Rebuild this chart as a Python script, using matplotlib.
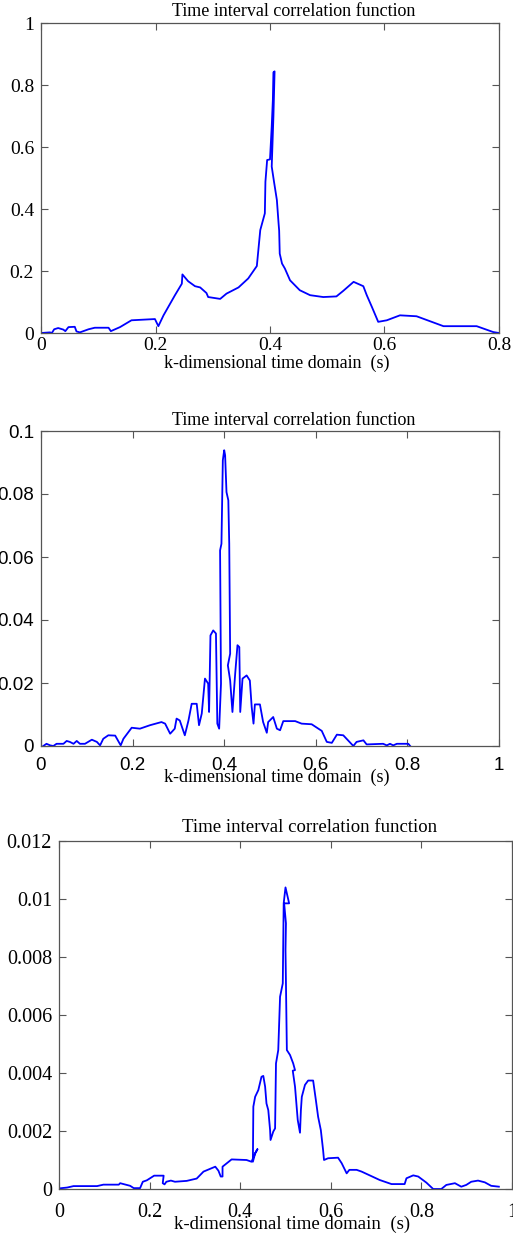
import matplotlib
matplotlib.use("Agg")
import matplotlib.pyplot as plt

# --- data ---
# panel 1
x1 = [0, 0.0157, 0.019, 0.023, 0.030, 0.039, 0.0425, 0.048, 0.059, 0.062, 0.068, 0.083, 0.094,
      0.118, 0.122, 0.138, 0.158, 0.199, 0.205, 0.214, 0.234, 0.246, 0.247, 0.257, 0.269, 0.278,
      0.289, 0.292, 0.313, 0.324, 0.345, 0.362, 0.377, 0.383, 0.391, 0.392, 0.395, 0.400, 0.403,
      0.405, 0.406, 0.408, 0.406, 0.403, 0.407, 0.412, 0.415, 0.416, 0.417, 0.421, 0.426, 0.435,
      0.452, 0.470, 0.493, 0.516, 0.528, 0.546, 0.563, 0.569, 0.578, 0.589, 0.604, 0.627, 0.656,
      0.703, 0.761, 0.790, 0.8]
y1 = [0, 0.002, 0, 0.012, 0.016, 0.011, 0.006, 0.019, 0.020, 0.005, 0.002, 0.012, 0.017,
      0.017, 0.006, 0.019, 0.041, 0.045, 0.022, 0.057, 0.122, 0.159, 0.189, 0.167, 0.151, 0.147,
      0.129, 0.116, 0.110, 0.127, 0.147, 0.176, 0.216, 0.332, 0.386, 0.488, 0.558, 0.560, 0.666,
      0.752, 0.841, 0.844, 0.700, 0.537, 0.488, 0.429, 0.353, 0.330, 0.256, 0.224, 0.208, 0.170,
      0.138, 0.122, 0.116, 0.118, 0.136, 0.165, 0.151, 0.122, 0.084, 0.036, 0.041, 0.057, 0.054,
      0.022, 0.022, 0.003, 0]

# panel 2
x2 = [0.005, 0.012, 0.020, 0.027, 0.034, 0.049, 0.056, 0.063, 0.071, 0.078, 0.085, 0.096, 0.111,
      0.122, 0.129, 0.136, 0.147, 0.162, 0.174, 0.180, 0.198, 0.216, 0.238, 0.263, 0.271, 0.282,
      0.292, 0.296, 0.303, 0.314, 0.322, 0.329, 0.340, 0.345, 0.351, 0.358, 0.365, 0.367, 0.370,
      0.376, 0.382, 0.385, 0.389, 0.393, 0.391, 0.394, 0.397, 0.400, 0.402, 0.405, 0.409, 0.411,
      0.413, 0.408, 0.413, 0.418, 0.424, 0.429, 0.433, 0.435, 0.440, 0.449, 0.456, 0.460, 0.464,
      0.467, 0.478, 0.485, 0.493, 0.496, 0.507, 0.515, 0.522, 0.529, 0.555, 0.569, 0.591, 0.613,
      0.624, 0.635, 0.646, 0.660, 0.682, 0.689, 0.704, 0.711, 0.747, 0.755, 0.762, 0.769, 0.777,
      0.802, 0.806]
y2 = [0, 0.0007, 0.0002, 0, 0.0007, 0.0007, 0.0016, 0.0013, 0.0007, 0.0016, 0.0007, 0.0007, 0.0020,
      0.0013, 0.0002, 0.0023, 0.0034, 0.0033, 0.0002, 0.0023, 0.0058, 0.0055, 0.0066, 0.0076, 0.0071,
      0.0039, 0.0055, 0.0087, 0.0081, 0.0034, 0.0081, 0.0134, 0.0134, 0.0066, 0.0103, 0.0214, 0.0198,
      0.0108, 0.0351, 0.0367, 0.0357, 0.0071, 0.0055, 0.0198, 0.0621, 0.0642, 0.0907, 0.0939, 0.0923,
      0.0806, 0.0780, 0.0642, 0.0293, 0.0256, 0.0208, 0.0108, 0.0230, 0.0320, 0.0314, 0.0108, 0.0214,
      0.0224, 0.0208, 0.0124, 0.0071, 0.0132, 0.0132, 0.0076, 0.0042, 0.0076, 0.0092, 0.0055, 0.0050,
      0.0079, 0.0079, 0.0071, 0.0069, 0.0048, 0.0013, 0.0010, 0.0036, 0.0034, 0, 0.0013, 0.0018,
      0.0005, 0.0007, 0.0002, 0.0007, 0.0002, 0.0007, 0.0007, 0]

# panel 3
x3 = [0, 0.018, 0.032, 0.084, 0.098, 0.132, 0.135, 0.157, 0.165, 0.179, 0.185, 0.194, 0.210, 0.231,
      0.229, 0.233, 0.237, 0.247, 0.256, 0.282, 0.304, 0.319, 0.345, 0.352, 0.357, 0.361, 0.361,
      0.381, 0.414, 0.425, 0.433, 0.438, 0.433, 0.428, 0.429, 0.433, 0.440, 0.447, 0.451, 0.455,
      0.458, 0.462, 0.466, 0.467, 0.473, 0.477, 0.479, 0.484, 0.488, 0.494, 0.495, 0.496, 0.500,
      0.508, 0.497, 0.501, 0.500, 0.503, 0.510, 0.517, 0.521, 0.516, 0.521, 0.527, 0.532, 0.534,
      0.536, 0.543, 0.550, 0.561, 0.567, 0.572, 0.578, 0.583, 0.585, 0.594, 0.616, 0.624, 0.635,
      0.641, 0.657, 0.668, 0.708, 0.734, 0.763, 0.767, 0.782, 0.793, 0.811, 0.826, 0.844, 0.855,
      0.874, 0.888, 0.899, 0.910, 0.925, 0.940, 0.954, 0.971]
y3 = [0.00002, 0.00005, 0.0001, 0.0001, 0.00015, 0.00015, 0.0002, 0.00011, 0.00003, 0.00003,
      0.00025, 0.0003, 0.00046, 0.00046, 0.0002, 0.00016, 0.00025, 0.00029, 0.00025, 0.00028,
      0.00036, 0.0006, 0.00077, 0.00063, 0.00043, 0.00043, 0.00077, 0.00102, 0.0010, 0.00094,
      0.00123, 0.00137, 0.00123, 0.00094, 0.00284, 0.00318, 0.00341, 0.00387, 0.0039, 0.00353,
      0.00295, 0.00272, 0.00203, 0.00169, 0.00198, 0.00209, 0.00433, 0.00479, 0.00663, 0.00709,
      0.00847, 0.00985, 0.0104, 0.00985, 0.00985, 0.00916, 0.00824, 0.00479, 0.00462, 0.00433,
      0.0041, 0.00408, 0.00353, 0.00238, 0.00194, 0.00272, 0.00318, 0.00359, 0.00374, 0.00374,
      0.00307, 0.00249, 0.00203, 0.00134, 0.0010, 0.00106, 0.00108, 0.00089, 0.00054, 0.00066,
      0.00066, 0.0006, 0.00031, 0.00017, 0.00017, 0.00037, 0.00047, 0.00043, 0.00022, 0, 0,
      0.00014, 0.0002, 0.00008, 0.00014, 0.00025, 0.00029, 0.00023, 0.00011, 0.00008]

W, H = 513, 1236
SERIF = "Liberation Serif"
SANS = "Liberation Sans"
TITLE = "Time interval correlation function"
XLABEL = "k-dimensional time domain  (s)"

fig = plt.figure(figsize=(W / 100, H / 100), dpi=100)


def make_axes(left, top, right, bottom):
    return fig.add_axes([left / W, 1 - bottom / H, (right - left) / W, (bottom - top) / H])


def style(ax, font, size, xpad):
    ax.tick_params(direction="in", length=5, width=0.8, color="#555555",
                   top=True, right=True, labelsize=size, pad=5)
    ax.tick_params(axis="x", pad=xpad)
    for lab in ax.get_xticklabels() + ax.get_yticklabels():
        lab.set_family(font)
    for sp in ax.spines.values():
        sp.set_color("#555555")
        sp.set_linewidth(0.9)


def fig_text(x, y, s, size):
    fig.text(x / W, 1 - y / H, s, ha="center", va="center", family=SERIF, fontsize=size)


# --- panel 1 ---
ax1 = make_axes(41, 23, 499, 333)
ax1.plot(x1, y1, color="#0000ff", lw=1.3)
ax1.set_xlim(0, 0.8)
ax1.set_ylim(0, 1)
ax1.set_xticks([0, 0.2, 0.4, 0.6, 0.8])
ax1.set_xticklabels(["0", "0.2", "0.4", "0.6", "0.8"])
ax1.set_yticks([0, 0.2, 0.4, 0.6, 0.8, 1])
ax1.set_yticklabels(["0", "0.2", "0.4", "0.6", "0.8", "1"])
style(ax1, SERIF, 14, 3)
fig_text(294, 12, TITLE, 13)
fig_text(277, 363, XLABEL, 13)

# --- panel 2 ---
ax2 = make_axes(41, 431, 499, 746)
ax2.plot(x2, y2, color="#0000ff", lw=1.3)
ax2.set_xlim(0, 1)
ax2.set_ylim(0, 0.1)
ax2.set_xticks([0, 0.2, 0.4, 0.6, 0.8, 1])
ax2.set_xticklabels(["0", "0.2", "0.4", "0.6", "0.8", "1"])
ax2.set_yticks([0, 0.02, 0.04, 0.06, 0.08, 0.1])
ax2.set_yticklabels(["0", "0.02", "0.04", "0.06", "0.08", "0.1"])
style(ax2, SANS, 13.5, 8)
fig_text(294, 420, TITLE, 13)
fig_text(277, 777, XLABEL, 13)

# --- panel 3 ---
ax3 = make_axes(59, 841, 512, 1189)
ax3.plot(x3, y3, color="#0000ff", lw=1.3)
ax3.set_xlim(0, 1)
ax3.set_ylim(0, 0.012)
ax3.set_xticks([0, 0.2, 0.4, 0.6, 0.8, 1])
ax3.set_xticklabels(["0", "0.2", "0.4", "0.6", "0.8", "1"])
ax3.set_yticks([0, 0.002, 0.004, 0.006, 0.008, 0.01, 0.012])
ax3.set_yticklabels(["0", "0.002", "0.004", "0.006", "0.008", "0.01", "0.012"])
style(ax3, SERIF, 14.5, 10)
fig_text(310, 828, TITLE, 13.5)
fig_text(292, 1224, XLABEL, 13.5)

fig.savefig("out.png", dpi=100)
